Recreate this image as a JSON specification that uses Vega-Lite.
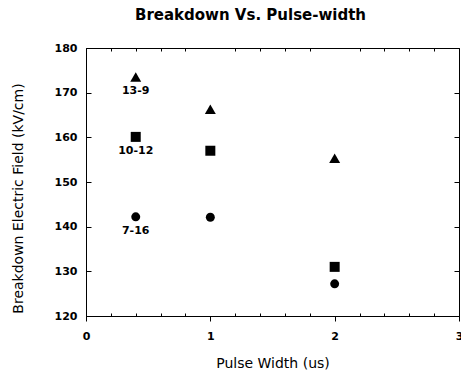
{
  "$schema": "https://vega.github.io/schema/vega-lite/v6.json",
  "width": 373,
  "height": 268,
  "autosize": "none",
  "padding": {"left": 86, "top": 48, "right": 2, "bottom": 58},
  "background": "white",
  "title": {
    "text": "Breakdown Vs. Pulse-width",
    "font": "DejaVu Sans",
    "fontSize": 15,
    "fontWeight": "bold",
    "color": "black",
    "anchor": "middle",
    "frame": "group",
    "dx": -22,
    "offset": 19
  },
  "data": {
    "values": [
      {"x": 0.4, "y": 173.5, "series": "13-9"},
      {"x": 1, "y": 166.3, "series": "13-9"},
      {"x": 2, "y": 155.3, "series": "13-9"},
      {"x": 0.4, "y": 160.1, "series": "10-12"},
      {"x": 1, "y": 157.0, "series": "10-12"},
      {"x": 2, "y": 131.0, "series": "10-12"},
      {"x": 0.4, "y": 142.2, "series": "7-16"},
      {"x": 1, "y": 142.1, "series": "7-16"},
      {"x": 2, "y": 127.2, "series": "7-16"}
    ]
  },
  "config": {
    "view": {"stroke": "black", "strokeWidth": 1},
    "axis": {
      "domainColor": "black",
      "tickColor": "black",
      "labelColor": "black",
      "titleColor": "black",
      "labelFont": "DejaVu Sans",
      "labelFontSize": 11,
      "labelFontWeight": "bold",
      "titleFont": "DejaVu Sans",
      "titleFontSize": 14,
      "titleFontWeight": "normal",
      "grid": false,
      "labelFlush": false,
      "labelOverlap": false
    }
  },
  "resolve": {"axis": {"x": "independent", "y": "independent"}},
  "layer": [
    {
      "mark": {"type": "point", "filled": true, "opacity": 1},
      "encoding": {
        "x": {
          "field": "x",
          "type": "quantitative",
          "scale": {"domain": [0, 3], "nice": false, "zero": false},
          "axis": {
            "orient": "bottom",
            "values": [0, 0.2, 0.4, 0.6, 0.8, 1, 1.2, 1.4, 1.6, 1.8, 2, 2.2, 2.4, 2.6, 2.8, 3],
            "labelExpr": "datum.value % 1 === 0 ? format(datum.value, 'd') : ''",
            "tickSize": {"condition": {"test": "datum.value % 1 === 0", "value": 5}, "value": -3},
            "labelPadding": 9,
            "title": "Pulse Width (us)",
            "titlePadding": 15
          }
        },
        "y": {
          "field": "y",
          "type": "quantitative",
          "scale": {"domain": [120, 180], "nice": false, "zero": false},
          "axis": {
            "orient": "left",
            "values": [120, 130, 140, 150, 160, 170, 180],
            "tickSize": -5,
            "labelPadding": 14,
            "title": "Breakdown Electric Field (kV/cm)",
            "titleAngle": -90,
            "titleBaseline": "middle",
            "titleX": -68,
            "titleY": 150
          }
        },
        "shape": {
          "field": "series",
          "type": "nominal",
          "scale": {"domain": ["13-9", "10-12", "7-16"], "range": ["triangle-up", "square", "circle"]},
          "legend": null
        },
        "size": {
          "field": "series",
          "type": "nominal",
          "scale": {"domain": ["13-9", "10-12", "7-16"], "range": [120, 80, 70]},
          "legend": null
        },
        "color": {"value": "black"}
      }
    },
    {
      "transform": [{"filter": "datum.x == 0.4"}],
      "mark": {
        "type": "text",
        "font": "DejaVu Sans",
        "fontSize": 11,
        "fontWeight": "bold",
        "color": "black",
        "baseline": "middle",
        "align": "center",
        "dy": 14
      },
      "encoding": {
        "x": {
          "field": "x",
          "type": "quantitative",
          "scale": {"domain": [0, 3], "nice": false, "zero": false},
          "axis": {
            "orient": "top",
            "values": [0.2, 0.4, 0.6, 0.8, 1.2, 1.4, 1.6, 1.8, 2.2, 2.4, 2.6, 2.8],
            "labels": false,
            "tickSize": -3,
            "title": null
          }
        },
        "y": {
          "field": "y",
          "type": "quantitative",
          "scale": {"domain": [120, 180], "nice": false, "zero": false},
          "axis": {
            "orient": "right",
            "values": [130, 140, 150, 160, 170],
            "labels": false,
            "tickSize": -5,
            "title": null
          }
        },
        "text": {"field": "series", "type": "nominal"}
      }
    }
  ]
}
